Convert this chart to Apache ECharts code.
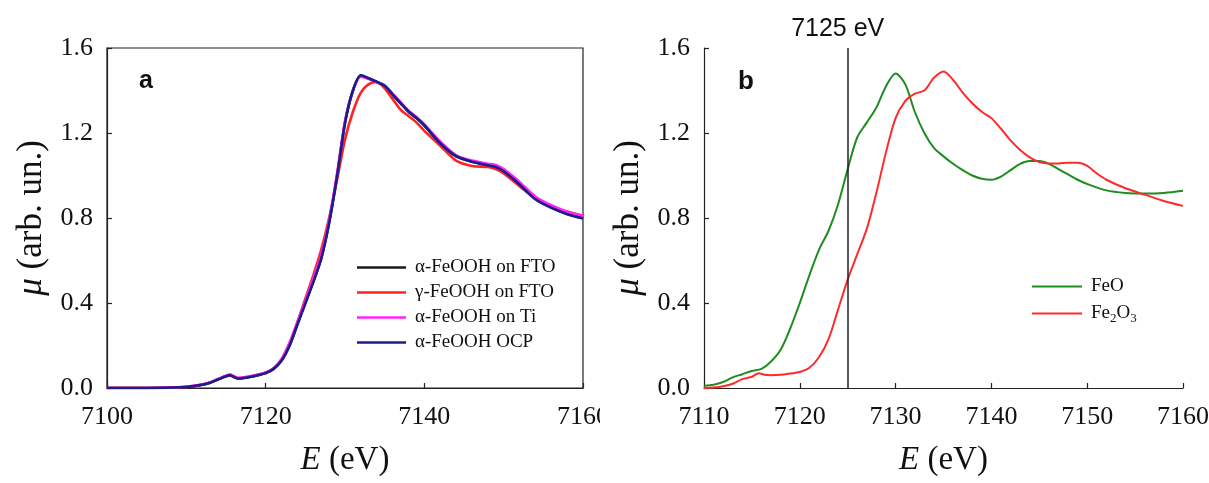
<!DOCTYPE html>
<html>
<head>
<meta charset="utf-8">
<script src="https://cdn.jsdelivr.net/npm/echarts@6/dist/echarts.min.js"></script>
<style>
  html, body { margin: 0; padding: 0; background: #fff; }
  #wrap { position: relative; width: 1209px; height: 483px; overflow: hidden; }
  #left { position: absolute; left: 0; top: 0; width: 600px; height: 483px; }
  #right { position: absolute; left: 600px; top: 0; width: 609px; height: 483px; }
</style>
</head>
<body>
<div id="wrap"><div id="left"></div><div id="right"></div></div>
<script>
// ---------- Panel a data ----------
const E_A = [7100, 7105, 7110, 7112, 7113, 7114, 7115, 7115.5, 7116, 7116.5, 7117, 7118, 7119, 7120, 7121, 7122, 7123, 7124, 7125, 7126, 7127, 7128, 7129, 7130, 7131, 7132, 7133, 7134, 7135, 7136, 7137, 7138, 7139, 7140, 7142, 7144, 7146, 7148, 7149, 7150, 7152, 7154, 7156, 7158, 7160];
const MU_ALPHA_FTO = [0.000, 0.000, 0.005, 0.015, 0.025, 0.040, 0.055, 0.060, 0.052, 0.045, 0.046, 0.052, 0.060, 0.070, 0.090, 0.130, 0.200, 0.300, 0.400, 0.500, 0.610, 0.780, 1.000, 1.250, 1.400, 1.470, 1.455, 1.440, 1.420, 1.380, 1.340, 1.300, 1.270, 1.235, 1.150, 1.090, 1.065, 1.050, 1.040, 1.020, 0.960, 0.890, 0.850, 0.820, 0.800];
const MU_GAMMA_FTO = [0.000, 0.000, 0.005, 0.016, 0.026, 0.042, 0.057, 0.062, 0.054, 0.047, 0.048, 0.054, 0.062, 0.072, 0.092, 0.135, 0.210, 0.310, 0.420, 0.530, 0.650, 0.800, 0.980, 1.170, 1.300, 1.390, 1.430, 1.440, 1.410, 1.360, 1.310, 1.280, 1.250, 1.210, 1.140, 1.070, 1.045, 1.040, 1.030, 1.010, 0.950, 0.890, 0.850, 0.830, 0.810];
const MU_ALPHA_TI = [0.000, 0.000, 0.006, 0.017, 0.027, 0.043, 0.058, 0.063, 0.055, 0.048, 0.049, 0.055, 0.063, 0.073, 0.093, 0.135, 0.210, 0.310, 0.410, 0.515, 0.625, 0.790, 1.010, 1.255, 1.400, 1.465, 1.455, 1.440, 1.425, 1.385, 1.345, 1.305, 1.275, 1.240, 1.160, 1.095, 1.070, 1.055, 1.050, 1.030, 0.970, 0.900, 0.860, 0.830, 0.810];
const MU_ALPHA_OCP = [0.000, 0.000, 0.005, 0.015, 0.025, 0.040, 0.055, 0.060, 0.052, 0.045, 0.046, 0.052, 0.060, 0.070, 0.090, 0.128, 0.198, 0.298, 0.398, 0.498, 0.608, 0.775, 0.995, 1.245, 1.400, 1.472, 1.458, 1.442, 1.422, 1.382, 1.342, 1.302, 1.272, 1.237, 1.152, 1.092, 1.065, 1.048, 1.040, 1.020, 0.958, 0.888, 0.848, 0.818, 0.798];
const NAMES_A = ['α-FeOOH on FTO', 'γ-FeOOH on FTO', 'α-FeOOH on Ti', 'α-FeOOH OCP'];
const COLORS_A = ['#1a1a1a', '#ff2222', '#ff22ff', '#1c1c8c'];
const X_TICKS_A = { min: 7100, max: 7160, step: 20 };

// ---------- Panel b data ----------
const E_FEO = [7110, 7111, 7112, 7113, 7114, 7115, 7116, 7117, 7118, 7119, 7120, 7121, 7122, 7123, 7124, 7125, 7126, 7127, 7128, 7129, 7130, 7131, 7132, 7133, 7134, 7135, 7136, 7137, 7138, 7139, 7140, 7141, 7142, 7143, 7144, 7145, 7146, 7147, 7148, 7149, 7150, 7152, 7154, 7156, 7158, 7160];
const MU_FEO = [0.010, 0.015, 0.028, 0.050, 0.065, 0.080, 0.090, 0.125, 0.180, 0.280, 0.400, 0.530, 0.650, 0.740, 0.865, 1.030, 1.180, 1.250, 1.320, 1.420, 1.480, 1.430, 1.300, 1.200, 1.130, 1.090, 1.055, 1.025, 1.000, 0.985, 0.980, 0.995, 1.025, 1.055, 1.068, 1.068, 1.055, 1.030, 1.005, 0.980, 0.960, 0.930, 0.918, 0.915, 0.918, 0.928];
const E_FE2O3 = [7110, 7111, 7112, 7113, 7114, 7115, 7115.7, 7116.3, 7117, 7118, 7119, 7120, 7121, 7122, 7123, 7124, 7125, 7126, 7127, 7128, 7129, 7130, 7131, 7132, 7133, 7134, 7135, 7136, 7137, 7138, 7139, 7140, 7141, 7142, 7143, 7144, 7145, 7146, 7147, 7148, 7149, 7150, 7151, 7152, 7154, 7156, 7158, 7160];
const MU_FE2O3 = [0.000, 0.002, 0.008, 0.020, 0.042, 0.053, 0.070, 0.062, 0.060, 0.062, 0.068, 0.075, 0.095, 0.145, 0.230, 0.370, 0.510, 0.630, 0.750, 0.920, 1.110, 1.270, 1.350, 1.385, 1.400, 1.460, 1.490, 1.450, 1.390, 1.340, 1.300, 1.270, 1.220, 1.165, 1.120, 1.085, 1.063, 1.057, 1.057, 1.060, 1.060, 1.045, 1.010, 0.980, 0.940, 0.910, 0.880, 0.857];
const NAMES_B = ['FeO', 'Fe2O3'];
const COLORS_B = ['#1f8c1f', '#ff2a2a'];
const X_TICKS_B = { min: 7110, max: 7160, step: 10 };
const MARK_E = 7125;
const MARK_LABEL = '7125 eV';

const Y_TICKS = { min: 0, max: 1.6, step: 0.4 };
const Y_TITLE = '{i|μ} (arb. un.)';
const X_TITLE = '{i|E} (eV)';

// ---------- shared styles ----------
const SERIF = 'Liberation Serif';
const SANS = 'Liberation Sans';
const AXIS_COLOR = '#222';
const TICK_RICH = { t: { fontFamily: SERIF, fontSize: 26, color: '#111' } };

function pairs(xs, ys) { return xs.map((x, i) => [x, ys[i]]); }

function xAxisCfg(t) {
  return {
    type: 'value', min: t.min, max: t.max, interval: t.step,
    name: X_TITLE, nameLocation: 'middle', nameGap: 56,
    nameTextStyle: { fontFamily: SERIF, fontSize: 33, color: '#111',
      rich: { i: { fontFamily: SERIF, fontSize: 33, fontStyle: 'italic', color: '#111' } } },
    axisLine: { show: true, onZero: false, lineStyle: { color: AXIS_COLOR, width: 1.2 } },
    axisTick: { show: true, inside: true, length: 5, lineStyle: { color: AXIS_COLOR, width: 1.2 } },
    axisLabel: { fontFamily: SERIF, fontSize: 26, color: '#111', margin: 16,
      formatter: v => '{t|' + String(v) + '}', rich: TICK_RICH },
    splitLine: { show: false }
  };
}
function yAxisCfg() {
  return {
    type: 'value', min: Y_TICKS.min, max: Y_TICKS.max, interval: Y_TICKS.step,
    name: Y_TITLE, nameLocation: 'middle', nameGap: 58,
    nameTextStyle: { fontFamily: SERIF, fontSize: 35, color: '#111',
      rich: { i: { fontFamily: SERIF, fontSize: 35, fontStyle: 'italic', color: '#111' } } },
    axisLine: { show: true, onZero: false, lineStyle: { color: AXIS_COLOR, width: 1.2 } },
    axisTick: { show: true, inside: true, length: 5, lineStyle: { color: AXIS_COLOR, width: 1.2 } },
    axisLabel: { fontFamily: SERIF, fontSize: 26, color: '#111', margin: 14,
      formatter: v => '{t|' + v.toFixed(1) + '}', rich: TICK_RICH },
    splitLine: { show: false }
  };
}

// ---------- Panel a ----------
const chartA = echarts.init(document.getElementById('left'), null, { renderer: 'canvas' });
const muA = [MU_ALPHA_FTO, MU_GAMMA_FTO, MU_ALPHA_TI, MU_ALPHA_OCP];
chartA.setOption({
  animation: false,
  textStyle: { fontFamily: SERIF },
  title: { text: 'a', left: 134, top: 64, textStyle: { fontFamily: SANS, fontWeight: 'bold', fontSize: 25, color: '#111' } },
  grid: { left: 107, right: 17, top: 48, bottom: 95, containLabel: false, outerBoundsMode: 'none',
    show: true, borderColor: AXIS_COLOR, borderWidth: 1.2, backgroundColor: 'transparent' },
  xAxis: xAxisCfg(X_TICKS_A),
  yAxis: yAxisCfg(),
  legend: {
    orient: 'vertical', left: 352, top: 253, icon: 'rect', itemWidth: 49, itemHeight: 2.5, itemGap: 6,
    textStyle: { fontFamily: SERIF, fontSize: 19, color: '#111', lineHeight: 19, padding: [0, 0, 0, 4] },
    data: NAMES_A
  },
  series: NAMES_A.map((n, k) => ({
    name: n, type: 'line', data: pairs(E_A, muA[k]), symbol: 'none', showSymbol: false, smooth: 0.25,
    lineStyle: { color: COLORS_A[k], width: 2.6 }, itemStyle: { color: COLORS_A[k] }, z: 2 + k
  }))
});

// ---------- Panel b ----------
const chartB = echarts.init(document.getElementById('right'), null, { renderer: 'canvas' });
const muB = [MU_FEO, MU_FE2O3];
const eB = [E_FEO, E_FE2O3];
chartB.setOption({
  animation: false,
  textStyle: { fontFamily: SERIF },
  title: { text: 'b', left: 133, top: 64, textStyle: { fontFamily: SANS, fontWeight: 'bold', fontSize: 26, color: '#111' } },
  grid: { left: 104, right: 26, top: 48, bottom: 95, containLabel: false, outerBoundsMode: 'none' },
  xAxis: xAxisCfg(X_TICKS_B),
  yAxis: yAxisCfg(),
  legend: {
    orient: 'vertical', left: 427, top: 272, icon: 'rect', itemWidth: 50, itemHeight: 2, itemGap: 8,
    textStyle: { fontFamily: SERIF, fontSize: 19, color: '#111', padding: [0, 0, 0, 4],
      rich: {
        n: { fontFamily: SERIF, fontSize: 19, color: '#111', lineHeight: 24, verticalAlign: 'middle' },
        s: { fontFamily: SERIF, fontSize: 13, color: '#111', lineHeight: 13, verticalAlign: 'bottom' }
      } },
    formatter: name => name === 'Fe2O3' ? '{n|Fe}{s|2}{n|O}{s|3}' : '{n|' + name + '}',
    data: NAMES_B
  },
  series: NAMES_B.map((n, k) => ({
    name: n, type: 'line', data: pairs(eB[k], muB[k]), symbol: 'none', showSymbol: false, smooth: 0.3,
    lineStyle: { color: COLORS_B[k], width: 2 }, itemStyle: { color: COLORS_B[k] }, z: 3 + k,
    markLine: k === 0 ? {
      silent: true, symbol: ['none', 'none'], animation: false,
      lineStyle: { color: '#222', width: 1.5, type: 'solid' },
      label: { show: true, position: 'end', formatter: MARK_LABEL, fontFamily: SANS, fontSize: 25, color: '#111', distance: 6, padding: [0, 20, 0, 0] },
      data: [{ xAxis: MARK_E }]
    } : undefined
  }))
});
</script>
</body>
</html>
